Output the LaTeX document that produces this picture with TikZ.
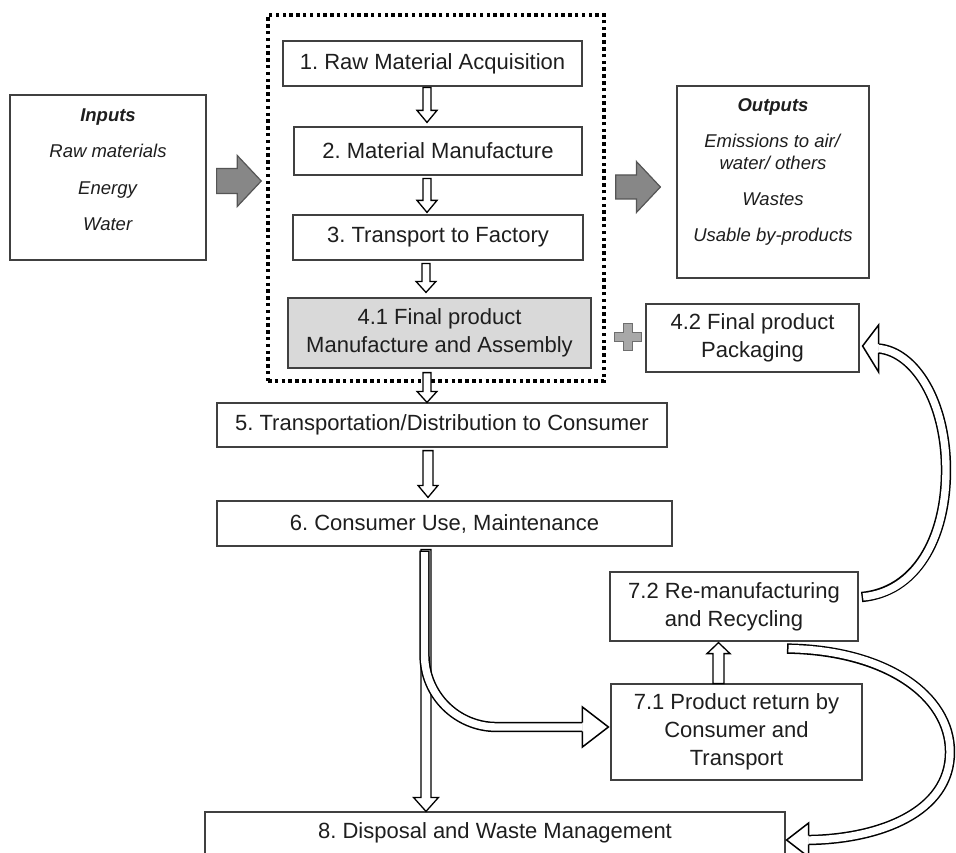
\documentclass[tikz,border=0pt]{standalone}
\usepackage{fontspec}
\setmainfont{Liberation Sans}
\usetikzlibrary{calc}
\frenchspacing
\definecolor{boxline}{HTML}{404040}
\definecolor{txt}{HTML}{1E1E1E}
\definecolor{fillfour}{HTML}{D9D9D9}
\definecolor{garrow}{HTML}{878787}
\definecolor{garrowline}{HTML}{555555}
\definecolor{plusfill}{HTML}{A8A8A8}
\definecolor{plusline}{HTML}{6E6E6E}
\newcommand\boxfont{\fontsize{22}{28}\selectfont}
\newcommand\smallfont{\fontsize{18.5}{36.5}\selectfont}
\newcommand\outfont{\fontsize{18.5}{22}\selectfont}
% vertical hollow block arrow: start, tip, shaft half width, head half width, head length (signed)
\newcommand\vtube[5]{%
  \filldraw[blockarrow] let \p1=(#1), \p2=(#2) in
   ({\x1-#3},\y1) -- ({\x1-#3},{\y2+(#5)}) -- ({\x1-#4},{\y2+(#5)}) -- (\x1,\y2)
   -- ({\x1+#4},{\y2+(#5)}) -- ({\x1+#3},{\y2+(#5)}) -- ({\x1+#3},\y1) -- cycle;}
% horizontal grey block arrow
\newcommand\htube[5]{%
  \filldraw[greyarrow] let \p1=(#1), \p2=(#2) in
   (\x1,{\y1+#3}) -- ({\x2-#5},{\y1+#3}) -- ({\x2-#5},{\y1+#4}) -- (\x2,\y1)
   -- ({\x2-#5},{\y1-#4}) -- ({\x2-#5},{\y1-#3}) -- (\x1,{\y1-#3}) -- cycle;}
\tikzset{
  box/.style={draw=boxline, line width=1.2pt, fill=white, text=txt, inner sep=0pt,
    align=center, font=\boxfont},
  sidebox/.style={draw=boxline, line width=1.2pt, fill=white, inner sep=0pt},
  sidetext/.style={text=txt, align=center, inner sep=0pt},
  frame/.style={draw=black, line width=3.5pt, dash pattern=on 3.5pt off 3.3pt, inner sep=0pt},
  blockarrow/.style={draw=black, fill=white, line width=1.3pt, line join=miter},
  greyarrow/.style={draw=garrowline, fill=garrow, line width=1.2pt, line join=miter},
  tubeout/.style={draw=black, line width=10.4pt},
  tubein/.style={draw=white, line width=7.4pt},
  tubehead/.style={draw=black, fill=white, line width=1.5pt, line join=miter},
  plusmark/.style={draw=plusline, fill=plusfill, line width=1.3pt, line join=miter}
}
\begin{document}
\begin{tikzpicture}[x=1pt, y=-1pt]
\useasboundingbox (0,0) rectangle (956,853);
\clip (0,0) rectangle (956,853);
\fill[white] (0,0) rectangle (956,853);

% dotted frame
\node[frame, minimum width=336, minimum height=366] (frm) at (436,198) {};

% main boxes
\node[box, minimum width=299, minimum height=45] (b1) at (432.5,63.5) {1. Raw Material Acquisition};
\node[box, minimum width=288, minimum height=48] (b2) at (438,151) {2. Material Manufacture};
\node[box, minimum width=290, minimum height=45] (b3) at (438,237.5) {3. Transport to Factory};
\node[box, fill=fillfour, minimum width=303, minimum height=70] (b41) at (439.5,333) {4.1 Final product\\Manufacture and Assembly};
\node[box, minimum width=213, minimum height=68] (b42) at (752.5,338) {4.2 Final product\\Packaging};
\node[box, minimum width=450, minimum height=44] (b5) at (442,425) {5. Transportation/Distribution to Consumer};
\node[box, minimum width=455, minimum height=45] (b6) at (444.5,523.5) {6. Consumer Use, Maintenance};
\node[box, minimum width=248, minimum height=69] (b72) at (734,606.5) {7.2 Re-manufacturing\\and Recycling};
\node[box, minimum width=251, minimum height=96] (b71) at (736.5,732) {7.1 Product return by\\Consumer and\\Transport};
\node[box, minimum width=580, minimum height=42] (b8) at (495,833) {8. Disposal and Waste Management};

% inputs / outputs
\node[sidebox, minimum width=196, minimum height=165] (inbox) at (108,177.5) {};
\node[sidetext, font=\smallfont] (intext) at (108,169.5)
  {\textbf{\textit{Inputs}}\\\textit{Raw materials}\\\textit{Energy}\\\textit{Water}};
\node[sidebox, minimum width=192, minimum height=192] (outbox) at (773,182) {};
\node[sidetext, font=\outfont] (outtext) at (773,172.3)
  {\textbf{\textit{Outputs}}\\[14pt]\textit{Emissions to air/}\\\textit{water/ others}\\[14pt]\textit{Wastes}\\[14pt]\textit{Usable by-products}};

% grey arrows
\coordinate (gis) at ($(inbox.east)+(10,3.5)$);
\coordinate (git) at ($(frm.west)+(-5,0)$);
\htube{gis}{git}{12.5pt}{25.5pt}{24pt}
\coordinate (gos) at ($(frm.east)+(10,-11)$);
\coordinate (got) at ($(outbox.west)+(-16,0)$);
\htube{gos}{got}{12pt}{25.5pt}{24pt}

% plus sign
\filldraw[plusmark, shift={(628,337)}] (-4.5,-13.5) -- (4.5,-13.5) -- (4.5,-4.5) -- (13.5,-4.5)
  -- (13.5,4.5) -- (4.5,4.5) -- (4.5,13.5) -- (-4.5,13.5) -- (-4.5,4.5) -- (-13.5,4.5)
  -- (-13.5,-4.5) -- (-4.5,-4.5) -- cycle;

% straight hollow arrows
\coordinate (a12s) at ($(b1.south)+(-5.5,1)$);
\coordinate (a12t) at ($(b2.north)+(0,-4)$);
\vtube{a12s}{a12t}{4pt}{10pt}{12pt}
\coordinate (a23s) at ($(b2.south)+(-11,3)$);
\coordinate (a23t) at ($(b3.north)+(0,-2)$);
\vtube{a23s}{a23t}{4pt}{10pt}{12pt}
\coordinate (a34s) at ($(b3.south)+(-12,3)$);
\coordinate (a34t) at ($(b41.north)+(0,-5)$);
\vtube{a34s}{a34t}{4pt}{10pt}{11pt}
\coordinate (a45s) at ($(b41.south)+(-12.5,4)$);
\coordinate (a45t) at (b5.north);
\vtube{a45s}{a45t}{4pt}{10pt}{11pt}
\coordinate (a56s) at ($(b5.south)+(-14,3)$);
\coordinate (a56t) at ($(b6.north)+(0,-3)$);
\vtube{a56s}{a56t}{5pt}{10pt}{12pt}
\coordinate (a68s) at ($(b6.south)+(-18.5,3)$);
\coordinate (a68t) at (b8.north);
\vtube{a68s}{a68t}{5pt}{12.5pt}{14pt}
\coordinate (a77s) at ($(b71.north)+(-18,0)$);
\coordinate (a77t) at ($(b72.south)+(0,1)$);
\vtube{a77s}{a77t}{5.5pt}{11.5pt}{-11pt}

% curved arrow 6 -> 7.1
\coordinate (c1s) at ($(b6.south)+(-20,4)$);
\coordinate (c1t) at ($(b71.west)+(-2,-5)$);
\coordinate (c1b) at ($(c1t)+(-26,0)$);
\draw[tubeout, rounded corners=72pt] (c1s) |- (c1b);
\draw[tubein, rounded corners=72pt, shorten <=1.5pt] (c1s) |- (c1b);
\filldraw[tubehead] ($(c1b)+(0,-4.45)$) -- ($(c1b)+(0,-20)$) -- (c1t) -- ($(c1b)+(0,20)$) -- ($(c1b)+(0,4.45)$);

% curved arrow 7.2 -> 8
\coordinate (c2s) at ($(b72.south)+(53,7)$);
\coordinate (c2t) at ($(b8.east)+(1,7)$);
\coordinate (c2b) at ($(c2t)+(22,0)$);
\draw[tubeout] (c2s) .. controls (885,650) and (950,695) .. (950,752) .. controls (950,812) and (880,839) .. (c2b);
\draw[tubein, shorten <=1.5pt] (c2s) .. controls (885,650) and (950,695) .. (950,752) .. controls (950,812) and (880,839) .. (c2b);
\filldraw[tubehead] ($(c2b)+(0,-4.45)$) -- ($(c2b)+(0,-17)$) -- (c2t) -- ($(c2b)+(0,17)$) -- ($(c2b)+(0,4.45)$);

% curved arrow 7.2 -> 4.2
\coordinate (c3s) at ($(b72.east)+(3,-9.5)$);
\coordinate (c3t) at ($(b42.east)+(3,8)$);
\coordinate (c3b) at ($(c3t)+(16,2.5)$);
\draw[tubeout] (c3s) .. controls (915,592) and (946,540) .. (946,470) .. controls (946,402) and (915,352) .. (c3b);
\draw[tubein, shorten <=1.5pt] (c3s) .. controls (915,592) and (946,540) .. (946,470) .. controls (946,402) and (915,352) .. (c3b);
\filldraw[tubehead] ($(c3b)+(0,-4.45)$) -- ($(c3b)+(0,-23.5)$) -- (c3t) -- ($(c3b)+(0,23.5)$) -- ($(c3b)+(0,4.45)$);
\end{tikzpicture}
\end{document}
